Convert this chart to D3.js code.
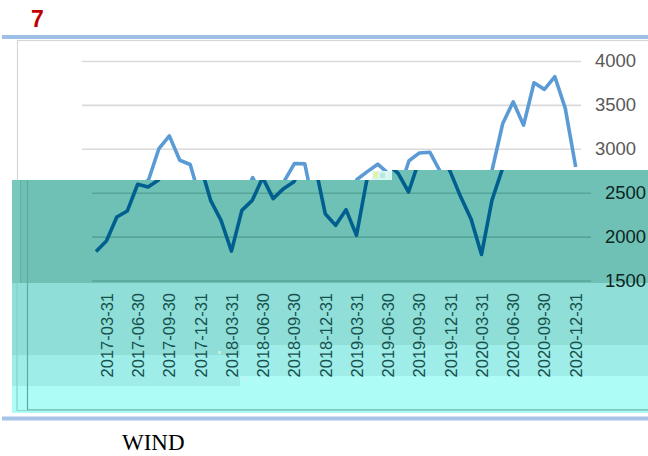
<!DOCTYPE html>
<html>
<head>
<meta charset="utf-8">
<script src="https://cdn.jsdelivr.net/npm/d3@7"></script>
<style>
html,body{margin:0;padding:0;background:#fff;}
svg{display:block;}
</style>
</head>
<body>
<svg id="c" width="648" height="456"></svg>
<script>
// ---- data ----
const dates = ["2017-02-28","2017-03-31","2017-04-30","2017-05-31","2017-06-30","2017-07-31","2017-08-31","2017-09-30","2017-10-31","2017-11-30","2017-12-31",
"2018-01-31","2018-02-28","2018-03-31","2018-04-30","2018-05-31","2018-06-30","2018-07-31","2018-08-31","2018-09-30","2018-10-31","2018-11-30","2018-12-31",
"2019-01-31","2019-02-28","2019-03-31","2019-04-30","2019-05-31","2019-06-30","2019-07-31","2019-08-31","2019-09-30","2019-10-31","2019-11-30","2019-12-31",
"2020-01-31","2020-02-29","2020-03-31","2020-04-30","2020-05-31","2020-06-30","2020-07-31","2020-08-31","2020-09-30","2020-10-31","2020-11-30","2020-12-31","2021-01-31"];
const values = [1831,1949,2223,2291,2596,2565,2645,3003,3147,2870,2821,
2413,2185,1835,2299,2413,2672,2432,2546,2625,2832,2828,2261,
2128,2307,2014,2650,2740,2825,2720,2508,2864,2953,2961,2740,
2453,2199,1797,2413,2770,3289,3535,3269,3752,3677,3821,3460,2793];
const xTickLabels = ["2017-03-31","2017-06-30","2017-09-30","2017-12-31","2018-03-31","2018-06-30","2018-09-30","2018-12-31",
"2019-03-31","2019-06-30","2019-09-30","2019-12-31","2020-03-31","2020-06-30","2020-09-30","2020-12-31"];
const yTicks = [1500,2000,2500,3000,3500,4000];
const pageNumber = "7";
const sourceText = "WIND";

const svg = d3.select("#c");
const x = d3.scalePoint().domain(dates).range([86, 575.7]);
const y = d3.scaleLinear().domain([1500, 4000]).range([280.5, 61]);
const data = dates.map((d, i) => ({d, v: values[i]}));

function drawChart(g, pal, showY, showX) {
  // chart frame
  g.append("rect").attr("x", 17.5).attr("y", 40.5).attr("width", 700).attr("height", 369.5)
    .attr("fill", "none").attr("stroke", pal.frame).attr("stroke-width", 1.2);
  // y axis with gridlines
  const ya = g.append("g").attr("transform", "translate(581,0)")
    .call(d3.axisRight(y).tickValues(yTicks).tickSize(-499).tickPadding(14).tickFormat(d3.format("d")));
  ya.select(".domain").remove();
  ya.selectAll(".tick line").attr("stroke", pal.grid).attr("stroke-width", 1.6);
  ya.selectAll(".tick text").attr("fill", pal.ytext)
    .style("font-family", "'Liberation Sans', Arial, sans-serif").style("font-size", "18.5px");
  ya.selectAll(".tick").filter(v => !showY(v)).select("text").remove();
  // x axis labels
  if (showX) {
    const xa = g.append("g").attr("transform", "translate(0,281)")
      .call(d3.axisBottom(x).tickValues(xTickLabels).tickSize(0).tickPadding(0));
    xa.select(".domain").remove();
    xa.selectAll(".tick text")
      .attr("transform", "rotate(-90)")
      .attr("x", -12).attr("y", 0).attr("dy", "0.36em")
      .attr("text-anchor", "end")
      .attr("fill", pal.xtext)
      .style("font-family", "'Liberation Sans', Arial, sans-serif").style("font-size", "16.5px");
  }
  // line
  g.append("path").datum(data)
    .attr("fill", "none").attr("stroke", pal.line).attr("stroke-width", 3.6)
    .attr("stroke-linejoin", "round")
    .attr("d", d3.line().x(p => x(p.d)).y(p => y(p.v)));
}

// background
svg.append("rect").attr("width", 648).attr("height", 456).attr("fill", "#ffffff");

// base chart (its lower part is hidden under the overlay)
drawChart(svg.append("g"), {frame: "#d6d6d6", grid: "#d9d9d9", ytext: "#595959", xtext: "#595959", line: "#5b9bd5"},
  v => v >= 3000, false);

// overlay bands
const ov = svg.append("g");
const bands = [
  {x: 12, y: 180, w: 636, h: 103, c: "#70c1b5"},
  {x: 392, y: 170, w: 256, h: 10, c: "#70c1b5"},
  {x: 12, y: 283, w: 228, h: 72, c: "#8fdfd8"},
  {x: 240, y: 283, w: 408, h: 62, c: "#8fdfd8"},
  {x: 12, y: 355, w: 228, h: 31, c: "#9eede8"},
  {x: 240, y: 345, w: 408, h: 31, c: "#9eede8"},
  {x: 12, y: 386, w: 228, h: 27, c: "#adfcf6"},
  {x: 240, y: 376, w: 408, h: 37, c: "#adfcf6"}
];
const defs = svg.append("defs");
const cp = defs.append("clipPath").attr("id", "ovclip");
bands.forEach(b => cp.append("rect").attr("x", b.x).attr("y", b.y).attr("width", b.w).attr("height", b.h));
bands.forEach(b => ov.append("rect").attr("x", b.x).attr("y", b.y).attr("width", b.w).attr("height", b.h).attr("fill", b.c));

// left-edge strip in teal band
ov.append("rect").attr("x", 12).attr("y", 180).attr("width", 9).attr("height", 103).attr("fill", "#78c8bb");
ov.append("line").attr("x1", 20.7).attr("x2", 20.7).attr("y1", 180).attr("y2", 283).attr("stroke", "#5faea2").attr("stroke-width", 1);

// shifted, tinted copy of the chart
const clipG = ov.append("g").attr("clip-path", "url(#ovclip)");
const shifted = clipG.append("g").attr("transform", "translate(10,0)");
drawChart(shifted, {frame: "#5aab9e", grid: "#55a698", ytext: "#0c2622", xtext: "#17504c", line: "#005f8e"},
  v => v <= 2500, true);

// frame lines in the light bands
ov.append("line").attr("x1", 17).attr("x2", 17).attr("y1", 283).attr("y2", 410.5).attr("stroke", "#86d2ca").attr("stroke-width", 1.2);
ov.append("line").attr("x1", 17).attr("x2", 648).attr("y1", 410.5).attr("y2", 410.5).attr("stroke", "#8ed6ce").attr("stroke-width", 1.2);

// small glitch fragments
svg.append("rect").attr("x", 372).attr("y", 171).attr("width", 20).attr("height", 9).attr("fill", "#d8f6f2");
svg.append("rect").attr("x", 374).attr("y", 172).attr("width", 4).attr("height", 6).attr("fill", "#e6f29c");
svg.append("rect").attr("x", 380).attr("y", 173).attr("width", 5).attr("height", 5).attr("fill", "#b9e8e2");
svg.append("rect").attr("x", 218).attr("y", 351).attr("width", 3).attr("height", 3).attr("fill", "#c6ecd2");
svg.append("rect").attr("x", 243).attr("y", 377).attr("width", 3).attr("height", 3).attr("fill", "#d4eef0");

// rules
svg.append("rect").attr("x", 2).attr("y", 35).attr("width", 646).attr("height", 4).attr("fill", "#9dbfe6");
svg.append("rect").attr("x", 2).attr("y", 416.5).attr("width", 646).attr("height", 4).attr("fill", "#a7c3e8");

// page number
svg.append("text").attr("x", 31).attr("y", 27).text(pageNumber)
  .attr("fill", "#c00000").style("font-family", "'Liberation Sans', Arial, sans-serif")
  .style("font-weight", "bold").style("font-size", "23px");

// source
svg.append("text").attr("x", 122).attr("y", 450).text(sourceText)
  .attr("fill", "#000").style("font-family", "'Liberation Serif', 'Times New Roman', serif")
  .style("font-size", "23px");
</script>
</body>
</html>
